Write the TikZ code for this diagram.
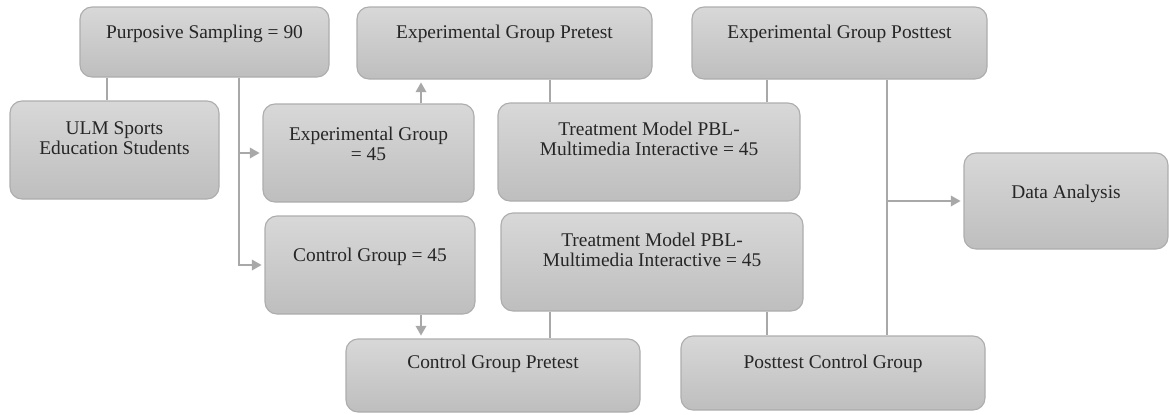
\documentclass[tikz,border=0pt]{standalone}
\usepackage{fontspec}
\setmainfont{Liberation Serif}
\newfontfamily\boxfont{Liberation Serif}
\usepackage{tikz}
\usetikzlibrary{arrows.meta}

\definecolor{boxtop}{HTML}{D8D8D8}
\definecolor{boxbottom}{HTML}{BEBEBE}
\definecolor{boxline}{HTML}{ADADAD}
\definecolor{linkgray}{HTML}{A8A8A8}

\tikzset{
    stage/.style={draw=boxline, line width=0.8pt, rounded corners=0.3cm,
        top color=boxtop, bottom color=boxbottom, inner sep=0pt},
    boxtext/.style={anchor=north, align=center, inner sep=0pt, text=black!85,
        font=\boxfont\fontsize{13.8}{14.4}\selectfont},
    link/.style={draw=linkgray, line width=1.4pt},
    flow/.style={link, -{Triangle[length=7pt,width=7.5pt]}, shorten >=2pt}
}

\begin{document}
\begin{tikzpicture}
    \useasboundingbox (0,0) rectangle (29.225,-10.35);

    % Boxes of the first row and the left side
    \node[stage, minimum width=6.225cm, minimum height=1.75cm,
        label={[boxtext,yshift=-0.45cm]north:Purposive Sampling = 90}] (pur) at (5.1125,-1.05) {};
    \node[stage, minimum width=5.225cm, minimum height=2.45cm,
        label={[boxtext,yshift=-0.525cm]north:ULM Sports\\Education Students}] (ulm) at (2.8625,-3.75) {};
    \node[stage, minimum width=7.375cm, minimum height=1.8cm,
        label={[boxtext,yshift=-0.45cm]north:Experimental Group Pretest}] (expre) at (12.6125,-1.075) {};
    \node[stage, minimum width=7.375cm, minimum height=1.8cm,
        label={[boxtext,yshift=-0.45cm]north:Experimental Group Posttest}] (expost) at (20.9875,-1.075) {};

    % Groups and treatments
    \node[stage, minimum width=5.275cm, minimum height=2.45cm,
        label={[boxtext,yshift=-0.575cm]north:Experimental Group\\= 45}] (expg) at (9.2125,-3.825) {};
    \node[stage, minimum width=7.55cm, minimum height=2.45cm,
        label={[boxtext,yshift=-0.475cm]north:Treatment Model PBL-\\Multimedia Interactive = 45}] (treat1) at (16.225,-3.8) {};
    \node[stage, minimum width=5.25cm, minimum height=2.45cm,
        label={[boxtext,yshift=-0.8cm]north:Control Group = 45}] (ctrlg) at (9.25,-6.625) {};
    \node[stage, minimum width=7.55cm, minimum height=2.45cm,
        label={[boxtext,yshift=-0.5cm]north:Treatment Model PBL-\\Multimedia Interactive = 45}] (treat2) at (16.3,-6.55) {};
    \node[stage, minimum width=5.1cm, minimum height=2.4cm,
        label={[boxtext,yshift=-0.8cm]north:Data Analysis}] (data) at (26.65,-5.025) {};

    % Bottom row
    \node[stage, minimum width=7.35cm, minimum height=1.825cm,
        label={[boxtext,yshift=-0.4cm]north:Control Group Pretest}] (ctpre) at (12.325,-9.3875) {};
    \node[stage, minimum width=7.6cm, minimum height=1.85cm,
        label={[boxtext,yshift=-0.475cm]north:Posttest Control Group}] (postc) at (20.825,-9.325) {};

    % x positions of the vertical connectors
    \coordinate (xa) at (2.675,0);
    \coordinate (xb) at (5.975,0);
    \coordinate (xc) at (10.525,0);
    \coordinate (xd) at (13.75,0);
    \coordinate (xe) at (19.175,0);
    \coordinate (xf) at (22.175,0);

    % Connectors
    \draw[link] (pur.south -| xa) -- (ulm.north -| xa);
    \draw[flow] (pur.south -| xb) |- (ctrlg.west);
    \draw[flow] (xb |- expg.west) -- (expg.west);
    \draw[flow] (expg.north -| xc) -- (expre.south -| xc);
    \draw[flow] (ctrlg.south -| xc) -- (ctpre.north -| xc);
    \draw[link] (expre.south -| xd) -- (treat1.north -| xd);
    \draw[link] (expost.south -| xe) -- (treat1.north -| xe);
    \draw[link] (treat2.south -| xd) -- (ctpre.north -| xd);
    \draw[link] (treat2.south -| xe) -- (postc.north -| xe);
    \draw[link] (expost.south -| xf) -- (postc.north -| xf);
    \draw[flow] (xf |- data.west) -- (data.west);

\end{tikzpicture}
\end{document}
